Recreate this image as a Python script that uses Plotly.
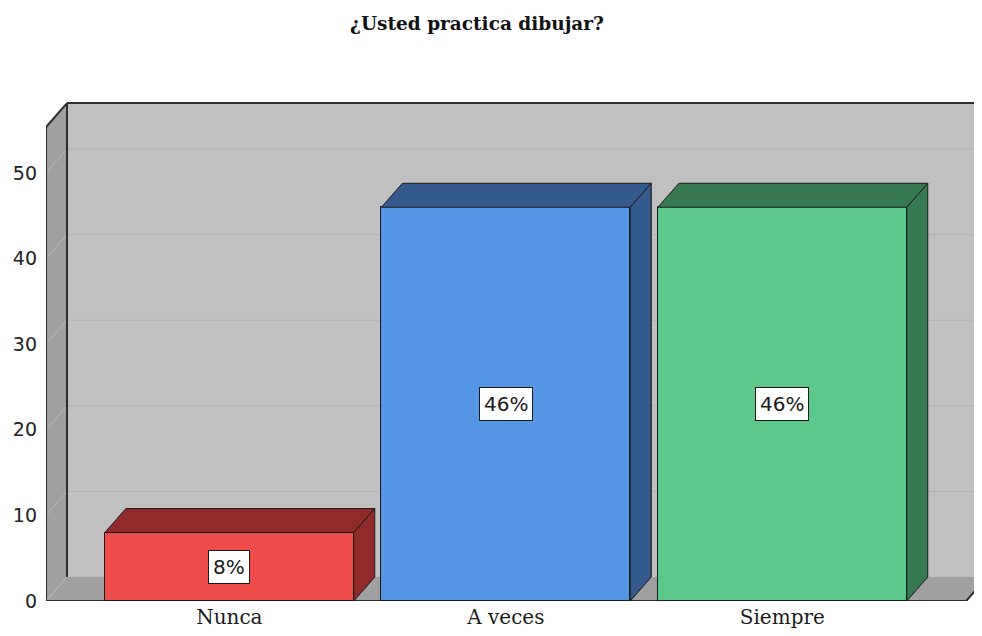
import plotly.graph_objects as go

categories = ["Nunca", "A veces", "Siempre"]
values = [8, 46, 46]
labels = ["8%", "46%", "46%"]
front_colors = ["#EE4B4B", "#5596E6", "#5CC98B"]
dark_colors = ["#912B2B", "#345A8C", "#377A52"]
y_ticks = [0, 10, 20, 30, 40, 50]

# 3D layout constants (axis units)
BAR_W = 0.9
DX = 0.076
DY = 2.8
XL, XR = -0.663, 2.665
XMAX = 2.80
YTOP = 55.37
X_RANGE = [-0.663, 2.7222]
Y_RANGE = [0, 58.53]

fig = go.Figure()

shapes = []
def poly(pts, fill, line_color=None, width=0):
    path = "M " + " L ".join(f"{x},{y}" for x, y in pts) + " Z"
    shapes.append(dict(type="path", path=path, xref="x", yref="y", layer="below",
                       fillcolor=fill, line=dict(color=line_color or fill, width=width)))

def seg(p, q, color, width):
    shapes.append(dict(type="line", x0=p[0], y0=p[1], x1=q[0], y1=q[1], xref="x", yref="y",
                       layer="below", line=dict(color=color, width=width)))

# back wall
poly([(XL + DX, DY), (XMAX, DY), (XMAX, YTOP + DY), (XL + DX, YTOP + DY)], "#C0C0C0")
# left wall
poly([(XL, 0), (XL, YTOP), (XL + DX, YTOP + DY), (XL + DX, DY)], "#A0A0A0")
# floor
poly([(XL, 0), (XR, 0), (XR + DX, DY), (XL + DX, DY)], "#A0A0A0")
# gridlines
for v in y_ticks:
    seg((XL, v), (XL + DX, v + DY), "#B6B6B6", 1)
    if v > 0:
        seg((XL + DX, v + DY), (XMAX, v + DY), "#B2B2B2", 1)
# frame
FR = "#2E2E2E"
seg((XL, 0), (XL, YTOP), FR, 2)
seg((XL, YTOP), (XL + DX, YTOP + DY), FR, 2)
seg((XL + DX, DY), (XL + DX, YTOP + DY), FR, 2)
seg((XL + DX, YTOP + DY), (XMAX, YTOP + DY), FR, 2)
seg((XL, 0), (XR, 0), FR, 2)
seg((XR, 0), (XR + DX, DY), FR, 2)

xs = list(range(len(categories)))
fig.add_trace(go.Bar(x=xs, y=values, width=BAR_W, marker=dict(color=front_colors,
                     line=dict(color="#1A1A1A", width=1)), hoverinfo="skip", showlegend=False))

for i, v in enumerate(values):
    l, r = xs[i] - BAR_W / 2, xs[i] + BAR_W / 2
    top = [(l, v), (r, v), (r + DX, v + DY), (l + DX, v + DY), (l, v)]
    side = [(r, 0), (r, v), (r + DX, v + DY), (r + DX, DY), (r, 0)]
    for pts in (top, side):
        fig.add_trace(go.Scatter(x=[p[0] for p in pts], y=[p[1] for p in pts], mode="lines",
                                 fill="toself", fillcolor=dark_colors[i],
                                 line=dict(color="#1A1A1A", width=1), hoverinfo="skip",
                                 showlegend=False))

annotations = []
for i, v in enumerate(values):
    annotations.append(dict(x=xs[i], y=v / 2, xref="x", yref="y", text=labels[i], showarrow=False,
                            bgcolor="white", bordercolor="#1A1A1A", borderwidth=1, borderpad=4,
                            font=dict(family="DejaVu Sans", size=20, color="#1A1A1A")))

# page has an 8px body margin: size/offsets compensate so the plot lands where the reference has it
fig.update_layout(
    width=974, height=620,
    margin=dict(l=38, r=0, t=92, b=27),
    paper_bgcolor="white", plot_bgcolor="white",
    shapes=shapes, annotations=annotations,
    title=dict(text="<b>¿Usted practica dibujar?</b>", x=469 / 974, xanchor="center", xref="container",
               y=1 - 16 / 620, yanchor="middle",
               font=dict(family="DejaVu Serif", size=18.5, color="#111111")),
    xaxis=dict(range=X_RANGE, tickvals=xs, ticktext=categories, showgrid=False, zeroline=False,
               showline=False, ticks="", ticklabelstandoff=2, automargin=False,
               tickfont=dict(family="DejaVu Serif", size=20, color="#1A1A1A")),
    yaxis=dict(range=Y_RANGE, tickvals=y_ticks, showgrid=False, zeroline=False, showline=False,
               ticks="", ticklabelstandoff=8, automargin=False,
               tickfont=dict(family="DejaVu Sans", size=19, color="#222222")),
    bargap=0,
)

fig.write_html("out.html")
